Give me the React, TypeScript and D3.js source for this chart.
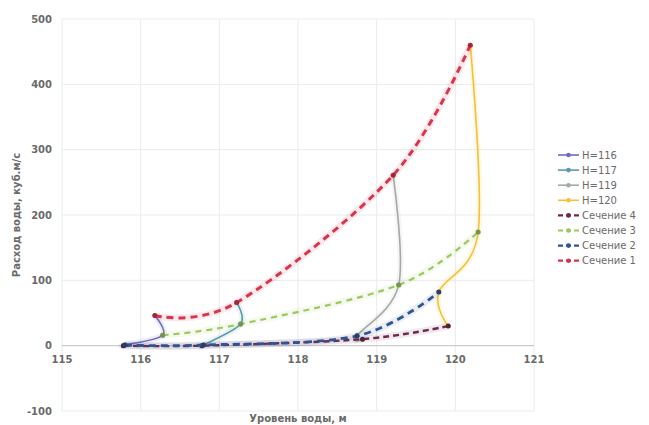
import React from "react";
import * as d3 from "d3";

const W = 649;
const H = 425;

const hLevels = ["H=116", "H=117", "H=119", "H=120"];
const hColors = ["#6f6cc0", "#5a9aac", "#a2aaa2", "#f4c232"];

const sectionNames = ["Сечение 4", "Сечение 3", "Сечение 2", "Сечение 1"];
const sectionColors = ["#6e2a4c", "#9cc85e", "#2f5590", "#d8344a"];

// Section rating curves (level, m ; discharge, m3/s) at H=116,117,119,120
const sec1Level = [116.18, 117.22, 119.21, 120.19];
const sec1Q = [46, 66, 261, 460];
const sec2Level = [115.8, 116.8, 118.75, 119.79];
const sec2Q = [1, 1, 15, 82];
const sec3Level = [116.28, 117.27, 119.28, 120.29];
const sec3Q = [16, 33, 93, 174];
const sec4Level = [115.78, 116.78, 118.82, 119.91];
const sec4Q = [0, 0, 10, 30];

const xTicks = [115, 116, 117, 118, 119, 120, 121];
const yTicks = [-100, 0, 100, 200, 300, 400, 500];

type P = [number, number];

const zip = (a: number[], b: number[]): P[] => a.map((v, i) => [v, b[i]]);

const sections: P[][] = [
  zip(sec4Level, sec4Q),
  zip(sec3Level, sec3Q),
  zip(sec2Level, sec2Q),
  zip(sec1Level, sec1Q),
];

// H lines go through sections 1 -> 3 -> 2 -> 4
const hSeries: P[][] = hLevels.map((_, i) => [
  [sec1Level[i], sec1Q[i]],
  [sec3Level[i], sec3Q[i]],
  [sec2Level[i], sec2Q[i]],
  [sec4Level[i], sec4Q[i]],
]);

const FONT = "'DejaVu Sans', Verdana, sans-serif";

export default function App() {
  const x = d3.scaleLinear().domain([115, 121]).range([62, 534]);
  const y = d3.scaleLinear().domain([-100, 500]).range([411, 19]);
  const line = d3
    .line<P>()
    .x((d) => x(d[0]))
    .y((d) => y(d[1]))
    .curve(d3.curveCardinal.tension(0));

  const secWidths = [2.4, 2.2, 2.8, 3];
  const secDash = ["6,4", "6,5", "7,5", "7,5"];

  return (
    <svg
      width={W}
      height={H}
      style={{ position: "absolute", left: 0, top: 0, background: "#fff" }}
    >
      {/* grid */}
      {yTicks.map((t) => (
        <line key={"gy" + t} x1={x(115)} x2={x(121)} y1={y(t)} y2={y(t)} stroke="#ebebeb" strokeWidth={1} />
      ))}
      {xTicks.map((t) => (
        <line key={"gx" + t} x1={x(t)} x2={x(t)} y1={y(500)} y2={y(-100)} stroke="#ebebeb" strokeWidth={1} />
      ))}
      {/* zero axis */}
      <line x1={x(115)} x2={x(121)} y1={y(0)} y2={y(0)} stroke="#c4c4c4" strokeWidth={1} />

      {/* tick labels */}
      {yTicks.map((t) => (
        <text
          key={"ty" + t}
          x={52}
          y={y(t)}
          dy="0.35em"
          textAnchor="end"
          fontFamily={FONT}
          fontSize={10}
          fontWeight="bold"
          fill="#6a6a6a"
        >
          {t}
        </text>
      ))}
      {xTicks.map((t) => (
        <text
          key={"tx" + t}
          x={x(t)}
          y={y(0) + 17}
          textAnchor="middle"
          fontFamily={FONT}
          fontSize={10}
          fontWeight="bold"
          fill="#6a6a6a"
        >
          {t}
        </text>
      ))}

      {/* axis titles */}
      <text
        x={298}
        y={422}
        textAnchor="middle"
        fontFamily={FONT}
        fontSize={10}
        fontWeight="bold"
        fill="#6a6a6a"
      >
        Уровень воды, м
      </text>
      <text
        transform={`translate(20,${y(200)}) rotate(-90)`}
        textAnchor="middle"
        fontFamily={FONT}
        fontSize={10}
        fontWeight="bold"
        fill="#6a6a6a"
      >
        Расход воды, куб.м/с
      </text>

      {/* H series */}
      {hSeries.map((s, i) => (
        <g key={"h" + i}>
          <path d={line(s) || ""} fill="none" stroke={hColors[i]} strokeWidth={6} strokeOpacity={0.12} />
          <path d={line(s) || ""} fill="none" stroke={hColors[i]} strokeWidth={1.6} />
          {s.map((p, j) => (
            <circle key={j} cx={x(p[0])} cy={y(p[1])} r={2.3} fill={hColors[i]} />
          ))}
        </g>
      ))}

      {/* Sections */}
      {sections.map((s, i) => (
        <g key={"s" + i}>
          <path d={line(s) || ""} fill="none" stroke={sectionColors[i]} strokeWidth={7} strokeOpacity={0.1} />
          <path
            d={line(s) || ""}
            fill="none"
            stroke={sectionColors[i]}
            strokeWidth={secWidths[i]}
            strokeDasharray={secDash[i]}
          />
          {s.map((p, j) => (
            <circle key={j} cx={x(p[0])} cy={y(p[1])} r={2.5} fill={d3.color(sectionColors[i])!.darker(0.8).toString()} />
          ))}
        </g>
      ))}

      {/* legend */}
      {[...hLevels, ...sectionNames].map((name, i) => {
        const ly = 155 + i * 15.1;
        const isSec = i >= 4;
        const c = isSec ? sectionColors[i - 4] : hColors[i];
        return (
          <g key={"l" + i}>
            <line
              x1={558}
              x2={579}
              y1={ly}
              y2={ly}
              stroke={c}
              strokeWidth={isSec ? 2.2 : 1.6}
              strokeDasharray={isSec ? "5,3" : undefined}
            />
            <circle cx={568.5} cy={ly} r={2.3} fill={c} />
            <text x={582} y={ly} dy="0.35em" fontFamily={FONT} fontSize={10} fill="#6a6a6a">
              {name}
            </text>
          </g>
        );
      })}
    </svg>
  );
}
